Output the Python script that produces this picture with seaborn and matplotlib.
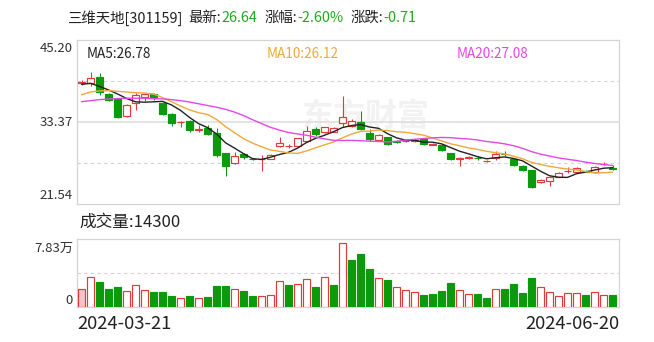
import matplotlib
matplotlib.use("Agg")
import matplotlib.pyplot as plt
import matplotlib.transforms as mtransforms
import numpy as np
import pandas as pd
import seaborn as sns

# ---------------- data ----------------
stock_name = "三维天地[301159]"
latest = "26.64"
pct_change = "-2.60%"
abs_change = "-0.71"
start_date = "2024-03-21"
end_date = "2024-06-20"
ma_labels = ["MA5:26.78", "MA10:26.12", "MA20:27.08"]
vol_label = "成交量:14300"
price_ticks = [21.54, 33.37, 45.20]
vol_top = 78300
vol_tick_labels = ["0", "7.83万"]

opens = [39.00, 38.96, 39.82, 37.41, 36.65, 34.24, 36.07, 37.02, 37.37, 36.16,
         34.52, 33.38, 33.56, 32.28, 32.46, 31.74, 28.85, 27.41, 28.75, 28.06,
         28.03, 28.03, 29.90, 29.88, 29.90, 30.67, 32.32, 31.88, 31.97, 33.27,
         32.79, 33.41, 31.83, 30.77, 31.16, 30.56, 30.60, 30.70, 30.87, 30.12,
         30.05, 28.85, 28.10, 28.20, 28.16, 27.75, 28.13, 28.75, 27.99, 27.02,
         26.44, 24.67, 24.90, 25.48, 26.30, 26.11, 26.25, 26.11, 27.30, 26.75]
highs = [39.40, 40.54, 40.40, 37.60, 36.80, 35.95, 37.50, 37.50, 37.50, 36.30,
         34.70, 33.45, 33.60, 32.94, 32.94, 32.46, 28.90, 29.09, 28.90, 28.20,
         28.61, 28.70, 31.25, 30.20, 31.10, 32.79, 32.60, 32.70, 32.60, 37.12,
         33.80, 35.00, 32.30, 31.60, 31.20, 30.80, 30.80, 30.90, 30.90, 30.30,
         30.10, 28.90, 28.30, 28.50, 28.40, 27.95, 29.23, 29.20, 28.10, 27.10,
         26.50, 25.10, 25.60, 26.20, 26.92, 26.90, 26.40, 27.00, 27.60, 27.20]
lows = [38.70, 38.61, 37.27, 36.40, 34.00, 34.10, 35.10, 36.40, 36.60, 34.40,
        32.79, 32.60, 31.97, 31.97, 31.50, 28.36, 25.60, 27.30, 28.00, 27.90,
        26.34, 28.00, 29.70, 29.60, 29.85, 30.60, 31.30, 31.80, 31.90, 32.60,
        32.70, 32.20, 30.70, 30.60, 30.00, 30.30, 30.50, 30.50, 30.10, 30.00,
        29.20, 27.90, 27.02, 28.00, 27.90, 27.60, 27.89, 28.50, 27.00, 26.30,
        23.90, 24.50, 24.18, 25.40, 25.96, 26.00, 26.10, 26.05, 27.20, 26.50]
closes = [39.10, 39.68, 37.66, 36.54, 34.13, 35.82, 37.27, 37.37, 36.79, 34.52,
          33.18, 33.41, 32.25, 32.32, 31.64, 28.61, 27.02, 28.46, 28.28, 28.03,
          28.08, 28.61, 30.38, 29.90, 31.02, 32.12, 31.64, 32.60, 32.46, 34.05,
          33.56, 32.32, 30.87, 31.50, 30.20, 30.53, 30.67, 30.77, 30.20, 30.15,
          29.33, 27.99, 28.13, 28.28, 28.13, 27.79, 28.75, 28.70, 27.17, 26.44,
          24.03, 25.00, 25.48, 26.06, 26.34, 26.69, 26.20, 26.92, 27.35, 26.64]
volumes = [20700, 34200, 28800, 20700, 23000, 18800, 25000, 19900, 17600, 17600,
           13000, 10000, 12300, 10000, 11200, 24200, 24200, 20700, 18800, 12300,
           13000, 14200, 29600, 25000, 26500, 31900, 23000, 34200, 25300, 73300,
           54100, 60700, 43800, 33000, 31100, 22700, 19600, 17600, 14200, 15300,
           18800, 27300, 19600, 15300, 15300, 10000, 20700, 20700, 26500, 16500,
           33000, 22700, 17600, 13000, 16500, 16500, 14200, 17600, 13500, 14300]
ma5 = [38.80, 38.95, 38.50, 38.00, 37.42, 36.77, 36.28, 36.23, 36.28, 36.35,
       35.83, 35.05, 34.03, 33.14, 32.56, 31.65, 30.37, 29.61, 28.80, 28.08,
       27.97, 28.29, 28.68, 29.00, 29.60, 30.41, 31.01, 31.46, 31.97, 32.57,
       32.86, 33.00, 32.65, 32.46, 31.69, 31.08, 30.75, 30.73, 30.47, 30.46,
       30.22, 29.69, 29.16, 28.78, 28.37, 28.06, 28.22, 28.33, 28.11, 27.77,
       27.02, 26.27, 25.62, 25.40, 25.38, 25.91, 26.15, 26.44, 26.70, 26.78]
ma10 = [37.30, 37.70, 37.85, 37.90, 37.80, 37.70, 37.60, 37.55, 37.40, 36.89,
        36.30, 35.67, 35.13, 34.71, 34.46, 33.74, 32.71, 31.82, 30.97, 30.32,
        29.81, 29.33, 29.14, 28.90, 28.84, 29.19, 29.65, 30.07, 30.48, 31.09,
        31.63, 32.01, 32.05, 32.21, 32.13, 31.97, 31.88, 31.69, 31.47, 31.08,
        30.65, 30.22, 29.95, 29.63, 29.42, 29.14, 28.95, 28.75, 28.44, 28.07,
        27.54, 27.24, 26.98, 26.76, 26.58, 26.47, 26.21, 26.03, 26.05, 26.12]
ma20 = [36.30, 36.45, 36.60, 36.70, 36.75, 36.80, 36.80, 36.80, 36.75, 36.70,
        36.60, 36.45, 36.25, 36.00, 35.75, 35.50, 35.20, 34.80, 34.30, 33.70,
        33.15, 32.60, 32.20, 31.85, 31.65, 31.46, 31.18, 30.94, 30.73, 30.70,
        30.72, 30.67, 30.60, 30.56, 30.49, 30.58, 30.76, 30.88, 30.98, 31.08,
        31.14, 31.11, 31.00, 30.92, 30.78, 30.56, 30.41, 30.22, 29.95, 29.57,
        29.10, 28.73, 28.46, 28.19, 28.00, 27.81, 27.58, 27.39, 27.25, 27.08]

# ---------------- style ----------------
sns.set_style("white")
plt.rcParams["font.family"] = ["Noto Sans CJK SC", "DejaVu Sans"]

RED = "#e4393c"
GREEN = "#0b9a0b"
TGREEN = "#22a822"
C_MA5 = "#222222"
C_MA10 = "#f0a83a"
C_MA20 = "#e646e6"
TXT = "#222222"
SPINE = "#d4d4d4"

W, H = 654, 342
fig = plt.figure(figsize=(W / 100, H / 100), dpi=100)
fig.patch.set_facecolor("white")


def axes_px(left, top, right, bottom):
    return fig.add_axes([left / W, 1 - bottom / H, (right - left) / W, (bottom - top) / H])


ax = axes_px(77, 40, 619, 204)
axv = axes_px(77, 239, 619, 307)

df = pd.DataFrame({"i": np.arange(len(closes)), "open": opens, "high": highs,
                   "low": lows, "close": closes, "vol": volumes,
                   "ma5": ma5, "ma10": ma10, "ma20": ma20})
df["up"] = df["close"] >= df["open"]
prev = df["close"].shift(1)
df["vup"] = (df["close"] >= prev) | prev.isna()

# watermark
ax.text(0.531, 0.53, "东方财富", transform=ax.transAxes, ha="center", va="center",
        fontsize=23, color="#f2f2f2", fontweight="bold", zorder=0)

# grid lines
ax.axhline(33.37, color="#dedede", lw=1.2, zorder=1)
for yv in (39.285, 27.455):
    ax.axhline(yv, color="#d2d2d2", lw=0.8, ls=(0, (3, 3)), zorder=1)

# candles
cols = np.where(df["up"], RED, GREEN)
ax.vlines(df["i"], df["low"], df["high"], colors=cols, lw=0.8, zorder=3)
body_h = np.maximum((df["close"] - df["open"]).abs(), 0.04)
body_b = np.minimum(df["close"], df["open"])
face = np.where(df["up"], "white", GREEN)
ax.bar(df["i"], body_h, bottom=body_b, width=0.7, color=face, edgecolor=cols,
       linewidth=0.85, zorder=4)

# moving averages
sns.lineplot(data=df, x="i", y="ma5", ax=ax, color=C_MA5, lw=1.0, zorder=5)
sns.lineplot(data=df, x="i", y="ma10", ax=ax, color=C_MA10, lw=1.0, zorder=5)
sns.lineplot(data=df, x="i", y="ma20", ax=ax, color=C_MA20, lw=1.0, zorder=5)

ax.set_xlim(-0.5, 59.72)
ax.set_ylim(price_ticks[0], price_ticks[-1])
ax.set_xticks([])
ax.set_yticks([])
ax.set_xlabel("")
ax.set_ylabel("")

# MA legends
ma_cols = [C_MA5, C_MA10, C_MA20]
ma_x = [86.7, 266.7, 456.7]
for lab, c, xp in zip(ma_labels, ma_cols, ma_x):
    ax.text((xp - 77) / 542, (204 - 54) / 164, lab, transform=ax.transAxes,
            color=c, fontsize=9.8, ha="left", va="center")

# volume bars
sns.barplot(data=df, x="i", y="vol", ax=axv, native_scale=True, errorbar=None,
            width=0.78, color=GREEN, zorder=3)
for p, vu, k in zip(axv.patches, df["vup"], df["i"]):
    if vu:
        p.set_facecolor("#f6c4c4" if k == 0 else "white")
        p.set_edgecolor(RED)
    else:
        p.set_facecolor(GREEN)
        p.set_edgecolor(GREEN)
    p.set_linewidth(0.85)
axv.axhline(vol_top / 2, color="#e3cccc", lw=0.8, ls=(0, (3, 3)), zorder=1)
axv.set_xlim(-0.5, 59.72)
axv.set_ylim(0, vol_top)
axv.set_xticks([])
axv.set_yticks([])
axv.set_xlabel("")
axv.set_ylabel("")

for a in (ax, axv):
    for s in a.spines.values():
        s.set_visible(True)
        s.set_color(SPINE)
        s.set_linewidth(0.9)


def ylab(a, yval, s, dy_px):
    tr = mtransforms.blended_transform_factory(a.transAxes, a.transData) + \
        mtransforms.ScaledTranslation(-4 / 100, dy_px / 100, fig.dpi_scale_trans)
    a.text(0, yval, s, transform=tr, ha="right", va="center", fontsize=9.5, color="#333333")


ylab(ax, price_ticks[2], f"{price_ticks[2]:.2f}", -9)
ylab(ax, price_ticks[1], f"{price_ticks[1]:.2f}", 0)
ylab(ax, price_ticks[0], f"{price_ticks[0]:.2f}", 8.3)
ylab(axv, vol_top, vol_tick_labels[1], -9)
ylab(axv, 0, vol_tick_labels[0], 7)

# title (multi-coloured)
fig.canvas.draw()
r = fig.canvas.get_renderer()
parts = [(stock_name, TXT, 6), ("最新:", TXT, 0), (latest, TGREEN, 8),
         ("涨幅:", TXT, 0), (pct_change, TGREEN, 7), ("涨跌:", TXT, 0), (abs_change, TGREEN, 0)]
xpx = 67
for s, c, gap in parts:
    t = fig.text(xpx / W, 1 - 18 / H, s, color=c, fontsize=10.4, ha="left", va="center")
    bb = t.get_window_extent(renderer=r)
    xpx += bb.width + gap

fig.text(79 / W, 1 - 222 / H, vol_label, color=TXT, fontsize=12, ha="left", va="center")
fig.text(77 / W, 1 - 324 / H, start_date, color=TXT, fontsize=13.3, ha="left", va="center")
fig.text(619 / W, 1 - 324 / H, end_date, color=TXT, fontsize=13.3, ha="right", va="center")

fig.savefig("out.png", dpi=100, facecolor="white")
